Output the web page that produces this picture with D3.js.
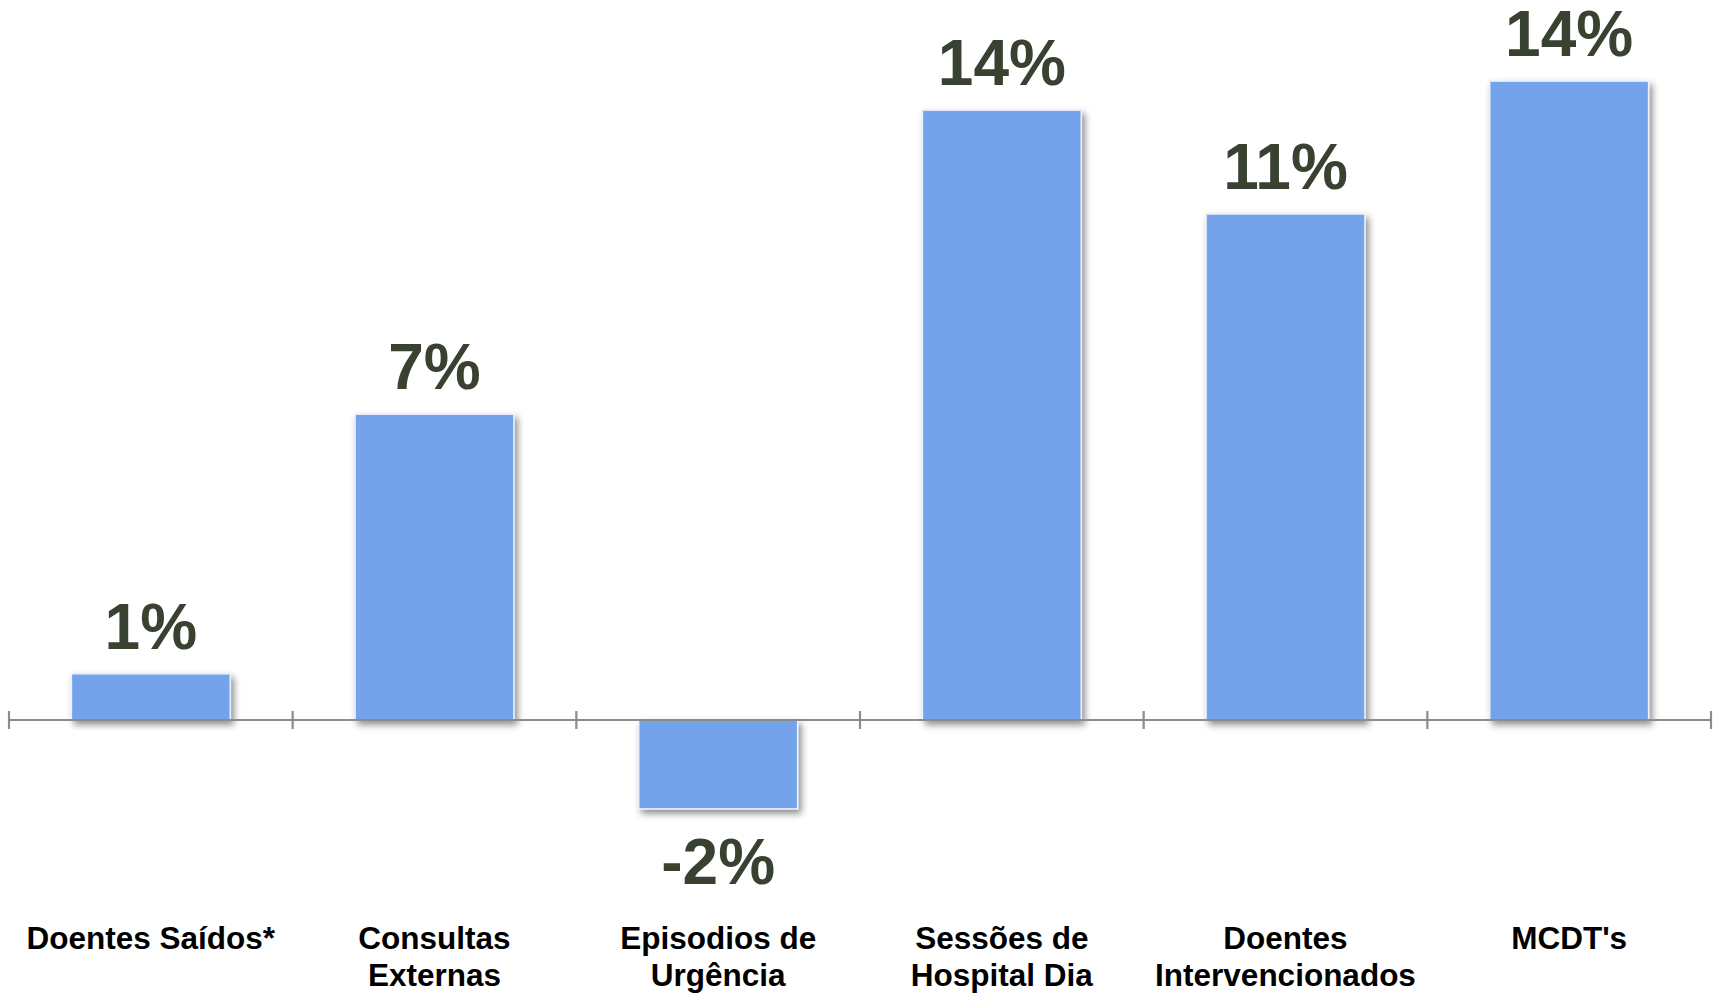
<!DOCTYPE html>
<html>
<head>
<meta charset="utf-8">
<script src="https://cdn.jsdelivr.net/npm/d3@7"></script>
<style>
  html, body { margin: 0; padding: 0; background: #ffffff; }
  svg { display: block; }
</style>
</head>
<body>
<svg id="chart" width="1719" height="994"></svg>
<script>
// Data
const categories = [
  ["Doentes Saídos*"],
  ["Consultas", "Externas"],
  ["Episodios de", "Urgência"],
  ["Sessões de", "Hospital Dia"],
  ["Doentes", "Intervencionados"],
  ["MCDT's"]
];
const values = [1.05, 6.95, -2.02, 13.86, 11.5, 14.52];
const valueLabels = ["1%", "7%", "-2%", "14%", "11%", "14%"];

const svg = d3.select("#chart");
const keys = categories.map(c => c.join(" "));

const x = d3.scaleBand()
  .domain(keys)
  .range([9, 1711])
  .paddingInner(0.44)
  .paddingOuter(0.22);

const y = d3.scaleLinear()
  .domain([-4, 16])
  .range([896, 16]);

const defs = svg.append("defs");
const f = defs.append("filter").attr("id", "shadow")
  .attr("x", "-20%").attr("y", "-20%").attr("width", "140%").attr("height", "140%");
f.append("feDropShadow")
  .attr("dx", 3).attr("dy", 4).attr("stdDeviation", 3.5)
  .attr("flood-color", "#000").attr("flood-opacity", 0.45);

// Bars
svg.append("g").selectAll("rect")
  .data(values)
  .join("rect")
  .attr("x", (d, i) => x(keys[i]))
  .attr("width", x.bandwidth())
  .attr("y", d => Math.min(y(d), y(0)))
  .attr("height", d => Math.abs(y(d) - y(0)))
  .attr("fill", "#75a3eb")
  .attr("stroke", "#e8f0fc")
  .attr("stroke-width", 1.5)
  .attr("filter", "url(#shadow)");

// Axis line with ticks at band boundaries
const axisG = svg.append("g");
const step = x.step();
const x0 = x.range()[0];
axisG.append("line")
  .attr("x1", x.range()[0]).attr("x2", x.range()[1])
  .attr("y1", y(0)).attr("y2", y(0))
  .attr("stroke", "#8c8c8c").attr("stroke-width", 2.2);
const tickPos = d3.range(keys.length + 1).map(i => x0 + i * step);
axisG.selectAll("line.tick")
  .data(tickPos)
  .join("line")
  .attr("class", "tick")
  .attr("x1", d => d).attr("x2", d => d)
  .attr("y1", y(0) - 9).attr("y2", y(0) + 9)
  .attr("stroke", "#8c8c8c").attr("stroke-width", 2.2);

// Value labels
svg.append("g").selectAll("text")
  .data(values)
  .join("text")
  .attr("x", (d, i) => x(keys[i]) + x.bandwidth() / 2)
  .attr("y", d => d >= 0 ? y(d) - 25 : y(d) + 75)
  .attr("text-anchor", "middle")
  .attr("font-family", "'Liberation Sans', Arial, sans-serif")
  .attr("font-weight", "bold")
  .attr("font-size", 64)
  .attr("fill", "#394131")
  .text((d, i) => valueLabels[i]);

// Category labels
const catG = svg.append("g");
categories.forEach((lines, i) => {
  const t = catG.append("text")
    .attr("x", x(keys[i]) + x.bandwidth() / 2)
    .attr("y", 949)
    .attr("text-anchor", "middle")
    .attr("font-family", "'Liberation Sans', Arial, sans-serif")
    .attr("font-weight", "bold")
    .attr("font-size", 31.5)
    .attr("fill", "#000");
  lines.forEach((ln, j) => {
    t.append("tspan")
      .attr("x", x(keys[i]) + x.bandwidth() / 2)
      .attr("dy", j === 0 ? 0 : 36.5)
      .text(ln);
  });
});
</script>
</body>
</html>
